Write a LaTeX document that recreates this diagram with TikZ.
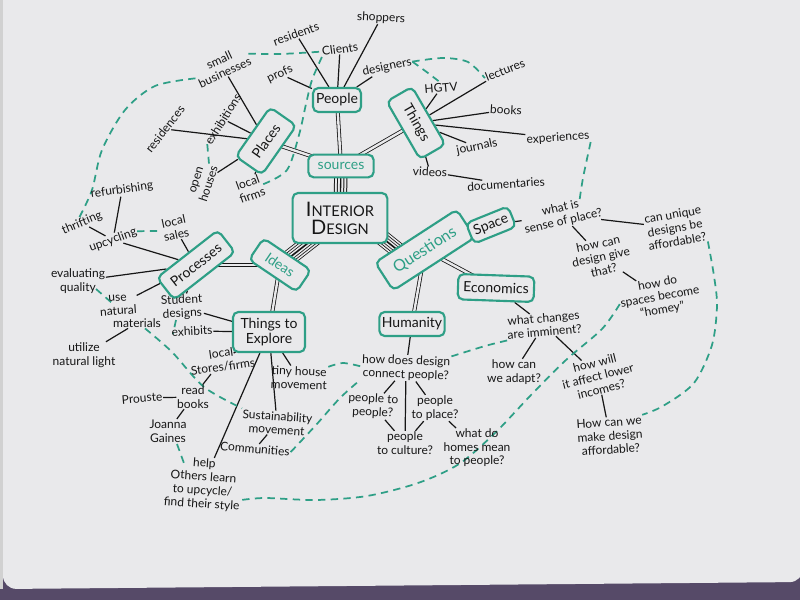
\documentclass[tikz,border=0pt]{standalone}
\usepackage{fontspec}
\setmainfont{Lato}
\usetikzlibrary{calc}
\definecolor{paper}{HTML}{E9E9EB}
\definecolor{tl}{HTML}{2E9F86}
\definecolor{ink}{HTML}{161616}
\definecolor{floor}{HTML}{564A68}
\pgfdeclarelayer{bg}\pgfdeclarelayer{wires}\pgfsetlayers{bg,wires,main}
\newcommand\leaffont{\fontsize{9}{10.2}\selectfont}
\newcommand\boxfont{\fontsize{10.5}{11.5}\selectfont}
\begin{document}
\begin{tikzpicture}[x=0.75pt,y=-0.75pt,
  box/.style={draw=tl, line width=1.6pt, rounded corners=4pt, fill=paper, inner sep=1pt, align=center, font=\boxfont, text=ink},
  leaf/.style={font=\leaffont, text=ink, align=center, inner sep=0.5pt},
  ln/.style={draw=ink, line width=0.9pt},
  dbl/.style={draw=ink, line width=0.6pt, double=paper, double distance=1.8pt},
  band5/.style={draw=ink, line width=10pt, postaction={draw=paper, line width=8.5pt}, postaction={draw=ink, line width=5.5pt}, postaction={draw=paper, line width=4pt}, postaction={draw=ink, line width=1pt}},
  band7/.style={draw=ink, line width=12pt, postaction={draw=paper, line width=10.8pt}, postaction={draw=ink, line width=8.4pt}, postaction={draw=paper, line width=7.2pt}, postaction={draw=ink, line width=4.8pt}, postaction={draw=paper, line width=3.6pt}, postaction={draw=ink, line width=1.2pt}},
  dsh/.style={draw=tl, line width=1.3pt, dash pattern=on 5.5pt off 4pt}
]
\useasboundingbox (0,0) rectangle (800,600);
\begin{pgfonlayer}{bg}
\fill[floor] (0,0) rectangle (800,600);
\fill[paper, rounded corners=10pt] (3,-20) -- (803,-20) -- (803,582) -- (3,589) -- cycle;
\fill[black!18] (0,0) rectangle (3,589);
\end{pgfonlayer}

% ---------- boxes ----------
\node[box, minimum width=71pt, minimum height=37.5pt] (id) at (340,218)
  {{\fontsize{15}{15}\selectfont I}{\fontsize{11}{12}\selectfont NTERIOR}\\[2pt]{\fontsize{15}{15}\selectfont D}{\fontsize{11}{12}\selectfont ESIGN}};
\node[box, text=tl, minimum width=49pt, minimum height=17pt] (src) at (341,166) {sources};
\node[box, minimum width=36pt, minimum height=18pt] (ppl) at (337,100) {People};
\node[box, rotate=55, minimum width=45pt, minimum height=24pt] (plc) at (266,141) {Places};
\node[box, rotate=-60, minimum width=50pt, minimum height=22pt] (thg) at (416,123) {Things};
\node[box, rotate=-34, text=tl, minimum width=43pt, minimum height=19.5pt] (ideas) at (280,265) {Ideas};
\node[box, rotate=33, text=tl, minimum width=73pt, minimum height=25pt, font=\fontsize{12}{13}\selectfont] (qst) at (425,250) {Questions};
\node[box, rotate=38, minimum width=58pt, minimum height=21pt] (proc) at (196,265) {Processes};
\node[box, rotate=22, minimum width=34pt, minimum height=16.5pt] (space) at (491,225) {Space};
\node[box, rotate=-2, minimum width=57pt, minimum height=19pt] (econ) at (496,288) {Economics};
\node[box, minimum width=49pt, minimum height=18pt] (hum) at (412,324) {Humanity};
\node[box, minimum width=54pt, minimum height=30pt] (tte) at (269,332) {Things to\\Explore};

% ---------- leaves: People ----------
\node[leaf, rotate=20] (residents) at (296,34) {residents};
\node[leaf, rotate=8] (clients) at (340,49) {Clients};
\node[leaf, rotate=-3] (shoppers) at (381,18) {shoppers};
\node[leaf, rotate=25] (profs) at (280,74) {profs};
\node[leaf, rotate=12] (designers) at (387,67) {designers};
% Places
\node[leaf, rotate=25] (smallbiz) at (222,66) {small\\businesses};
\node[leaf, rotate=58] (exhibitions) at (223,119) {exhibitions};
\node[leaf, rotate=52] (residences) at (165,129) {residences};
\node[leaf, rotate=72] (openhouses) at (203,182) {open\\houses};
\node[leaf, rotate=20] (localfirms) at (250,189) {local\\firms};
% Things
\node[leaf, rotate=5] (hgtv) at (441,88) {HGTV};
\node[leaf, rotate=22] (lectures) at (505,70) {lectures};
\node[leaf, rotate=-3] (books) at (506,110) {books};
\node[leaf, rotate=4] (experiences) at (558,138) {experiences};
\node[leaf, rotate=12] (journals) at (477,147) {journals};
\node[leaf, rotate=-3] (videos) at (430,172) {videos};
\node[leaf, rotate=4] (documentaries) at (506,184) {documentaries};
% Processes
\node[leaf, rotate=12] (localsales) at (175,228) {local\\sales};
\node[leaf, rotate=20] (upcycling) at (113,240) {upcycling};
\node[leaf, rotate=8] (refurbishing) at (122,190) {refurbishing};
\node[leaf, rotate=23] (thrifting) at (82,223) {thrifting};
\node[leaf] (evalq) at (78,281) {evaluating\\quality};
\node[leaf, rotate=4] (usenat) at (118,305) {use\\natural};
\node[leaf] (materials) at (137,323) {materials};
\node[leaf] (utilize) at (84,355) {utilize\\natural light};
\node[leaf, rotate=3] (student) at (182,307) {Student\\designs};
\node[leaf, rotate=3] (exhibits) at (192,331) {exhibits};
% Things to Explore
\node[leaf, rotate=8] (localstores) at (222,360) {local\\Stores/firms};
\node[leaf] (readbooks) at (193,397) {read\\books};
\node[leaf, rotate=5] (prouste) at (142,398) {Prouste};
\node[leaf] (joanna) at (168,431) {Joanna\\Gaines};
\node[leaf, rotate=-2] (tinyhouse) at (299,378) {tiny house\\movement};
\node[leaf, rotate=-4] (sustain) at (277,423) {Sustainability\\movement};
\node[leaf, rotate=-5] (communities) at (255,449) {Communities};
\node[leaf, rotate=-4] (help) at (203,484) {help\\Others learn\\to upcycle/\\find their style};
% Space
\node[leaf, rotate=13] (senseplace) at (562,215) {what is\\sense of place?};
\node[leaf, rotate=10] (canunique) at (675,228) {can unique\\designs be\\affordable?};
\node[leaf, rotate=12] (howcan) at (601,257) {how can\\design give\\that?};
\node[leaf, rotate=10] (homey) at (660,297) {how do\\spaces become\\``homey''};
% Economics
\node[leaf, rotate=5] (changes) at (544,325) {what changes\\are imminent?};
\node[leaf] (adapt) at (514,372) {how can\\we adapt?};
\node[leaf, rotate=14] (lower) at (598,376) {how will\\it affect lower\\incomes?};
\node[leaf, rotate=4] (afford) at (610,436) {How can we\\make design\\affordable?};
% Humanity
\node[leaf, rotate=-2] (connect) at (406,368) {how does design\\connect people?};
\node[leaf, rotate=-3] (ptp) at (373,406) {people to\\people?};
\node[leaf] (ptplace) at (435,408) {people\\to place?};
\node[leaf] (ptc) at (405,443) {people\\to culture?};
\node[leaf] (homes) at (477,448) {what do\\homes mean\\to people?};

\begin{pgfonlayer}{wires}
% multi-line trunks
\draw[band5] (src.center) -- (id.center);
\draw[band7] (id.center) -- (ideas.center);
\draw[band7] ($(id.center)+(30,10)$) -- ($(qst.center)+(-10,14)$);
\draw[dbl] (src.center) -- (ppl.center);
\draw[dbl] (src.center) -- (plc.center);
\draw[dbl] (src.center) -- (thg.center);
\draw[dbl] (ideas.center) -- (proc.center);
\draw[dbl] (ideas.center) -- (tte.center);
\draw[dbl] (qst.center) -- (space.center);
\draw[dbl] (qst.center) -- (econ.center);
\draw[dbl] (qst.center) -- (hum.center);
% leaf lines
\foreach \a in {residents,clients,shoppers,profs,designers} \draw[ln] (\a) -- (ppl);
\foreach \a in {smallbiz,exhibitions,residences,openhouses,localfirms} \draw[ln] (\a) -- (plc);
\foreach \a in {hgtv,lectures,books,experiences,journals,videos} \draw[ln] (\a) -- (thg);
\draw[ln] (videos) -- (documentaries);
\foreach \a in {localsales,upcycling,evalq,usenat,student} \draw[ln] (\a) -- (proc);
\draw[ln] (refurbishing) -- (upcycling);
\draw[ln] (thrifting) -- (upcycling);
\draw[ln] (utilize) -- (materials);
\foreach \a in {student,exhibits,localstores,tinyhouse,sustain,help} \draw[ln] (\a) -- (tte);
\draw[ln] (readbooks) -- (localstores);
\draw[ln] (prouste) -- (readbooks);
\draw[ln] (joanna) -- (readbooks);
\draw[ln] (communities) -- (sustain);
\draw[ln] (space) -- (senseplace);
\draw[ln] (senseplace) -- (canunique);
\draw[ln] (senseplace) -- (howcan);
\draw[ln] (howcan) -- (homey);
\draw[ln] (econ) -- (changes);
\draw[ln] (changes) -- (adapt);
\draw[ln] (changes) -- (lower);
\draw[ln] (lower) -- (afford);
\draw[ln] (hum) -- (connect);
\draw[ln] (connect) -- (ptp);
\draw[ln] (connect) -- (ptplace);
\draw[ln] (connect) -- (ptc);
\draw[ln] (ptp) -- (ptc);
\draw[ln] (ptplace) -- (ptc);
\draw[ln] (ptplace) -- (homes);
% dashed links
\draw[dsh] plot[smooth] coordinates {(thrifting.north) (92,190) (102,150) (125,110) (155,86) (smallbiz.west)};
\draw[dsh] plot[smooth] coordinates {(smallbiz.east) (280,54) (clients.west)};
\draw[dsh] plot[smooth] coordinates {(clients.south west) (312,80) (306,104) (299,135) (287,170) (localfirms.east)};
\draw[dsh] plot[smooth] coordinates {(designers.east) (443,58) (468,62) (lectures.west)};
\draw[dsh] plot[smooth] coordinates {(designers.east) (428,73) (hgtv.north)};
\draw[dsh] plot[smooth] coordinates {(experiences.south east) (583,178) (579,204)};
\draw[dsh] (exhibitions.west) -- (openhouses.east);
\draw[dsh] (upcycling.east) -- (localsales.west);
\draw[dsh] (96,289) -- (112,303);
\draw[dsh] (176,320) -- (173,334);
\draw[dsh] plot[smooth] coordinates {($(materials.south)+(8,0)$) (172,352) (204,387) (sustain.north west)};
\draw[dsh] (177,444) -- (185,466);
\draw[dsh] plot[smooth] coordinates {(tinyhouse.north east) (343,363) (connect.west)};
\draw[dsh] plot[smooth] coordinates {(connect.north east) (485,346) (changes.south west)};
\draw[dsh] plot[smooth] coordinates {(communities.east) (316,425) (340,398) (connect.south west)};
\draw[dsh] plot[smooth] coordinates {(homey.west) (602,329) (566,360) (531,395) (495,433) (459,464) (418,483) (367,496) (316,500) (265,498) ($(help.east)!0.5!(help.south east)$)};
\draw[dsh] plot[smooth] coordinates {(canunique.south east) (714,276) (717,306) (712,345) (694,383) (663,406) (afford.north east)};
\end{pgfonlayer}
\end{tikzpicture}
\end{document}
